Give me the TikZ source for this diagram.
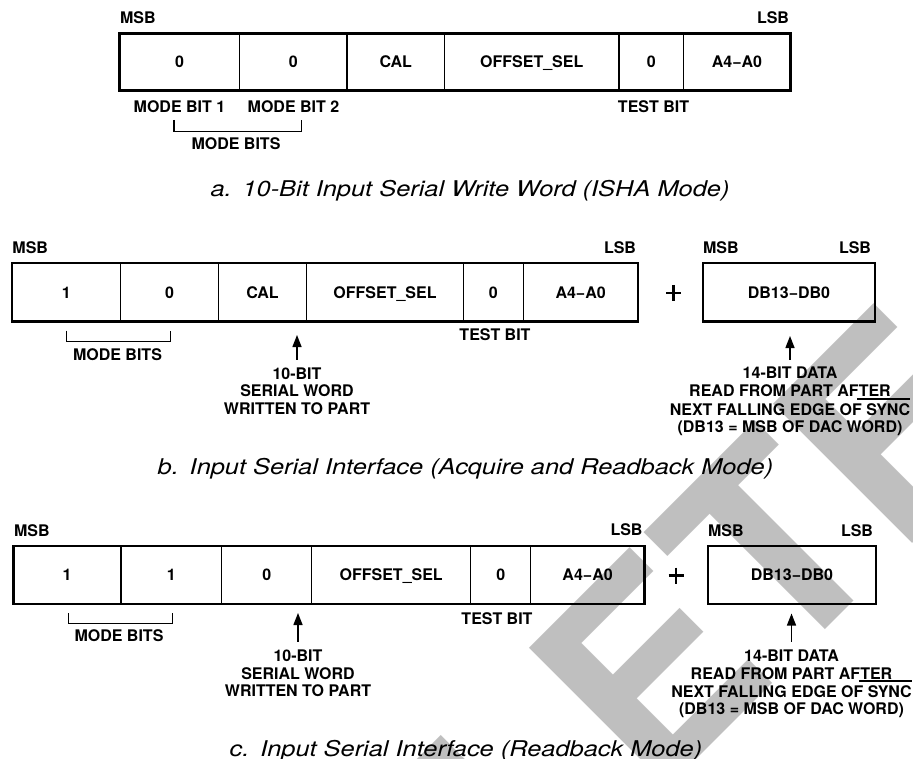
\documentclass[tikz,border=0pt]{standalone}
\usepackage{fontspec}
\setmainfont{TeX Gyre Heros}
\newfontfamily\lblfont{TeX Gyre Heros}
\newfontfamily\capfont{TeX Gyre Heros}[FakeStretch=1.17]
\newfontfamily\wmfont{TeX Gyre Heros}
\usetikzlibrary{arrows.meta}
\newsavebox\myovlbox
\newcommand\myovl[1]{\sbox\myovlbox{#1}\rlap{\kern-9pt\raisebox{15.5pt}{\rule{\dimexpr\wd\myovlbox+9pt\relax}{1.3pt}}}\usebox\myovlbox}
\begin{document}
\begin{tikzpicture}[x=1pt,y=-1pt,
  lbl/.style={font=\lblfont\bfseries\fontsize{16}{18}\selectfont, inner sep=0pt, outer sep=0pt},
  captxt/.style={font=\capfont\itshape\fontsize{21.7}{24}\selectfont, inner sep=0pt, outer sep=0pt, anchor=base},
  cell/.style={lbl, draw, line width=1.3pt, anchor=north west, text height=11.5pt, text depth=0pt},
  frame/.style={line width=2.4pt},
  brk/.style={line width=1.3pt},
  upar/.style={line width=1.4pt, -{Triangle[width=9pt,length=12pt]}},
  plusmark/.style={minimum width=15pt, minimum height=16pt, inner sep=0pt, outer sep=0pt},
  plusline/.style={line width=2.6pt},
  wm/.style={font=\wmfont\bfseries\fontsize{270}{270}\selectfont, text=black!25, rotate=45, anchor=base east, inner sep=0pt, outer sep=0pt}
]
\useasboundingbox (0,0) rectangle (913,759);
\fill[white] (0,0) rectangle (913,759);

% watermark
\begin{scope}
\clip (0,0) rectangle (913,759);
\node[wm] (wmark) at (1024.5,430.8) {OBSOLETE};
\end{scope}

% ---------------- a ----------------
\node[lbl, anchor=base west] (amsb) at (120,24) {MSB};
\node[lbl, anchor=base east] (alsb) at (789,24) {LSB};
\node[cell, minimum width=120pt, minimum height=57pt] (a1) at (119.5,33.5) {0};
\node[cell, minimum width=107.5pt, minimum height=57pt] (a2) at (239.5,33.5) {0};
\node[cell, minimum width=97.5pt, minimum height=57pt] (a3) at (347,33.5) {CAL};
\node[cell, minimum width=174.5pt, minimum height=57pt] (a4) at (444.5,33.5) {OFFSET\_SEL};
\node[cell, minimum width=64.5pt, minimum height=57pt] (a5) at (619,33.5) {0};
\node[cell, minimum width=107pt, minimum height=57pt] (a6) at (683.5,33.5) {A4−A0};
\draw[frame] (a1.north west) rectangle (a6.south east);
\node[lbl, anchor=base] (amb1) at (179.5,113) {MODE BIT 1};
\node[lbl, anchor=base] (amb2) at (293.5,113) {MODE BIT 2};
\node[lbl, anchor=base] (atest) at (653.5,113) {TEST BIT};
\draw[brk] (174,120) -- (174,131.5) -- (301.5,131.5) -- (301.5,120);
\node[lbl, anchor=base] (amodes) at (236,150) {MODE BITS};
\node[captxt] (capa) at (470,196.5) {a.\hspace{0.5em}10-Bit Input Serial Write Word (ISHA Mode)};

% ---------------- b ----------------
\node[lbl, anchor=base west] (bmsb) at (12.5,254) {MSB};
\node[lbl, anchor=base east] (blsb) at (636,254) {LSB};
\node[cell, minimum width=109pt, minimum height=58.2pt] (b1) at (11.7,263.3) {1};
\node[cell, minimum width=97.6pt, minimum height=58.2pt] (b2) at (120.7,263.3) {0};
\node[cell, minimum width=88.4pt, minimum height=58.2pt] (b3) at (218.3,263.3) {CAL};
\node[cell, minimum width=156.6pt, minimum height=58.2pt] (b4) at (306.7,263.3) {OFFSET\_SEL};
\node[cell, minimum width=60pt, minimum height=58.2pt] (b5) at (463.3,263.3) {0};
\node[cell, minimum width=114.7pt, minimum height=58.2pt] (b6) at (523.3,263.3) {A4−A0};
\draw[frame] (b1.north west) rectangle (b6.south east);
\node[plusmark] (bplus) at (673.5,293) {};
\draw[plusline] (bplus.west) -- (bplus.east);
\draw[plusline] (bplus.north) -- (bplus.south);
\node[cell, minimum width=172pt, minimum height=58.2pt] (b7) at (703,263.3) {DB13−DB0};
\draw[frame] (b7.north west) rectangle (b7.south east);
\node[lbl, anchor=base west] (bmsb2) at (703,254) {MSB};
\node[lbl, anchor=base east] (blsb2) at (871,254) {LSB};
\node[lbl, anchor=base] (btest) at (495,341) {TEST BIT};
\draw[brk] (66.7,330.7) -- (66.7,341.7) -- (170.7,341.7) -- (170.7,330.7);
\node[lbl, anchor=base] (bmodes) at (117.5,360) {MODE BITS};
\node[lbl, anchor=base] (bw1) at (297,379) {10-BIT};
\node[lbl, anchor=base] (bw2) at (297,396.7) {SERIAL WORD};
\node[lbl, anchor=base] (bw3) at (297,414.3) {WRITTEN TO PART};
\coordinate (bwtip) at (297,335);
\draw[upar] ([yshift=7.5pt]bw1.north) -- (bwtip);
\node[lbl, anchor=base] (bd1) at (790,378.3) {14-BIT DATA};
\node[lbl, anchor=base] (bd2) at (790,396.7) {READ FROM PART AFTER};
\node[lbl, anchor=base] (bd3) at (790,415) {NEXT FALLING EDGE OF \myovl{SYNC}};
\node[lbl, anchor=base] (bd4) at (790,432.7) {(DB13 = MSB OF DAC WORD)};
\coordinate (bdtip) at (790,336);
\draw[upar] ([yshift=6.8pt]bd1.north) -- (bdtip);
\node[captxt] (capb) at (465.5,474.5) {b.\hspace{0.5em}Input Serial Interface (Acquire and Readback Mode)};

% ---------------- c ----------------
\node[lbl, anchor=base west] (cmsb) at (14,536.5) {MSB};
\node[lbl, anchor=base east] (clsb) at (642.5,535.5) {LSB};
\node[cell, minimum width=107.7pt, minimum height=58pt] (c1) at (13.3,546) {1};
\node[cell, minimum width=100.7pt, minimum height=58pt] (c2) at (121,546) {1};
\node[cell, minimum width=90pt, minimum height=58pt] (c3) at (221.7,546) {0};
\node[cell, minimum width=159pt, minimum height=58pt] (c4) at (311.7,546) {OFFSET\_SEL};
\node[cell, minimum width=60pt, minimum height=58pt] (c5) at (470.7,546) {0};
\node[cell, minimum width=113.8pt, minimum height=58pt] (c6) at (530.7,546) {A4−A0};
\draw[frame] (c1.north west) rectangle (c6.south east);
\node[plusmark] (cplus) at (676,575.5) {};
\draw[plusline] (cplus.west) -- (cplus.east);
\draw[plusline] (cplus.north) -- (cplus.south);
\node[cell, minimum width=168pt, minimum height=58pt] (c7) at (708,546) {DB13−DB0};
\draw[frame] (c7.north west) rectangle (c7.south east);
\node[lbl, anchor=base west] (cmsb2) at (708,536) {MSB};
\node[lbl, anchor=base east] (clsb2) at (873,536) {LSB};
\node[lbl, anchor=base] (ctest) at (497,624.5) {TEST BIT};
\draw[brk] (68.3,613.3) -- (68.3,623.3) -- (172.3,623.3) -- (172.3,613.3);
\node[lbl, anchor=base] (cmodes) at (119,641.7) {MODE BITS};
\node[lbl, anchor=base] (cw1) at (298,661.5) {10-BIT};
\node[lbl, anchor=base] (cw2) at (298,679.2) {SERIAL WORD};
\node[lbl, anchor=base] (cw3) at (298,696.8) {WRITTEN TO PART};
\coordinate (cwtip) at (298,613);
\draw[upar] ([yshift=8.3pt]cw1.north) -- (cwtip);
\node[lbl, anchor=base] (cd1) at (791.5,661.2) {14-BIT DATA};
\node[lbl, anchor=base] (cd2) at (791.5,679) {READ FROM PART AFTER};
\node[lbl, anchor=base] (cd3) at (791.5,697) {NEXT FALLING EDGE OF \myovl{SYNC}};
\node[lbl, anchor=base] (cd4) at (791.5,714.5) {(DB13 = MSB OF DAC WORD)};
\coordinate (cdtip) at (791.5,613.5);
\draw[upar] ([yshift=8pt]cd1.north) -- (cdtip);
\node[captxt] (capc) at (466,756) {c.\hspace{0.5em}Input Serial Interface (Readback Mode)};
\end{tikzpicture}
\end{document}
